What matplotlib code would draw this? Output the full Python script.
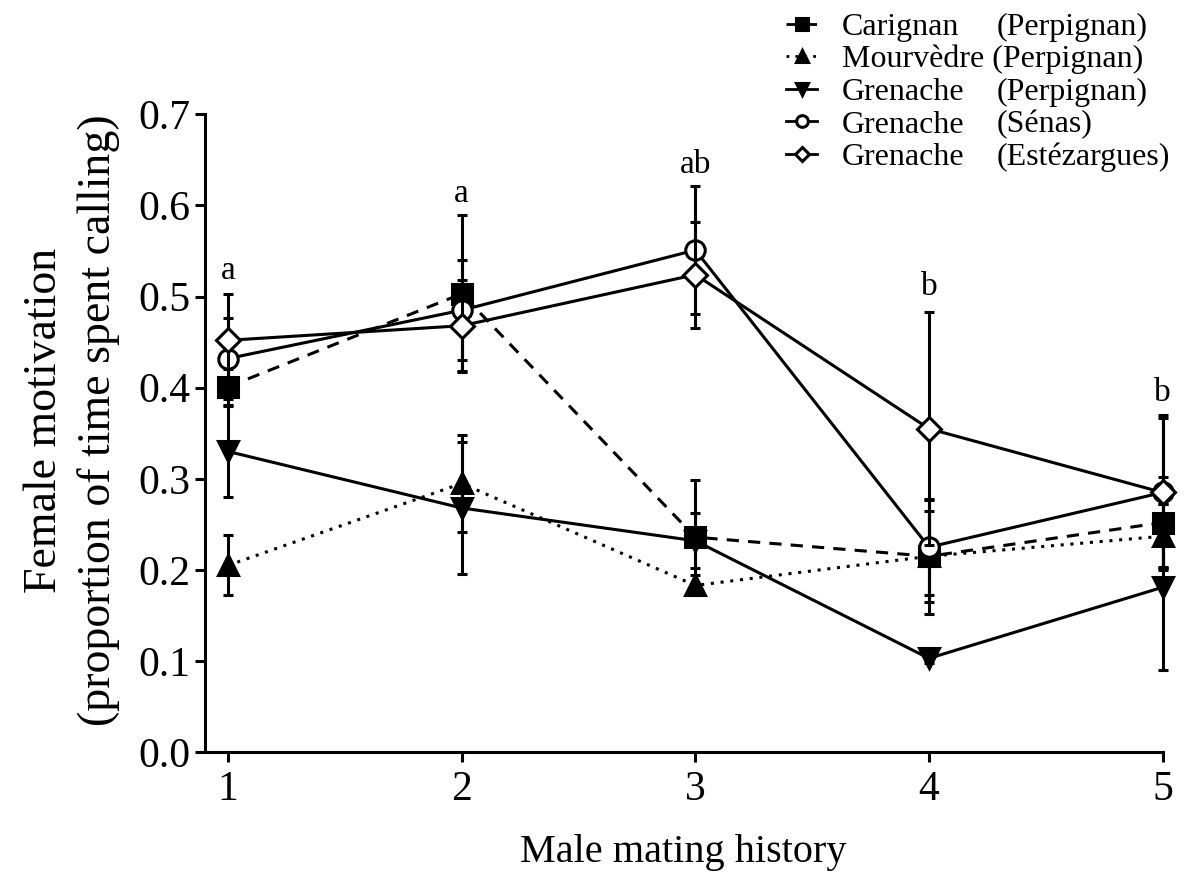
import matplotlib
matplotlib.use('Agg')
import matplotlib.pyplot as plt

plt.rcParams['font.family'] = ['Liberation Serif', 'DejaVu Serif']

history = [1, 2, 3, 4, 5]

carignan = [0.401, 0.503, 0.236, 0.215, 0.252]
carignan_sem = [0.02, 0.086, 0.063, 0.063, 0.05]
mourvedre = [0.205, 0.295, 0.183, 0.215, 0.237]
mourvedre_sem = [0.033, 0.053, 0.011, 0.05, 0.035]
grenache_perp = [0.33, 0.268, 0.232, 0.103, 0.181]
grenache_perp_sem = [0.05, 0.072, 0.03, 0.005, 0.091]
grenache_senas = [0.432, 0.485, 0.551, 0.225, 0.285]
grenache_senas_sem = [0.044, 0.055, 0.07, 0.052, 0.085]
grenache_estez = [0.452, 0.468, 0.524, 0.355, 0.285]
grenache_estez_sem = [0.051, 0.05, 0.058, 0.128, 0.082]

letters = ['a', 'a', 'ab', 'b', 'b']
letter_y = [0.519, 0.604, 0.636, 0.502, 0.385]

series = [
    ('Carignan', '(Perpignan)', carignan, carignan_sem, 's', 'black', (0, (4, 3)), 14),
    ('Mourvèdre (Perpignan)', None, mourvedre, mourvedre_sem, '^', 'black', (0, (1, 2.2)), 14),
    ('Grenache', '(Perpignan)', grenache_perp, grenache_perp_sem, 'v', 'black', '-', 14),
    ('Grenache', '(Sénas)', grenache_senas, grenache_senas_sem, 'o', 'white', '-', 14),
    ('Grenache', '(Estézargues)', grenache_estez, grenache_estez_sem, 'D', 'white', '-', 12),
]

fig = plt.figure(figsize=(11.9, 8.86), dpi=100)
ax = fig.add_axes([0.172, 0.151, 0.805, 0.720])

handles = []
z = 3
for name, place, vals, sem, mk, fc, ls, ms in series:
    cont = ax.errorbar(history, vals, yerr=sem, fmt='none', ecolor='black',
                       elinewidth=2.2, capsize=3.5, capthick=2.2, zorder=z)
    for art in cont.lines[1] + cont.lines[2]:
        art.set_clip_on(False)
    ln, = ax.plot(history, vals, color='black', lw=2.2, linestyle=ls,
                  marker=mk, markersize=ms, markerfacecolor=fc,
                  markeredgecolor='black', markeredgewidth=2.2,
                  clip_on=False, zorder=z + 1)
    handles.append(ln)
    z += 2

for x, lab, yy in zip(history, letters, letter_y):
    ax.text(x, yy, lab, ha='center', va='baseline', fontsize=24)

ax.set_xlim(0.9, 5)
ax.set_ylim(0, 0.7)
ax.set_xticks(history)
ax.set_yticks([0, 0.1, 0.2, 0.3, 0.4, 0.5, 0.6, 0.7])
ax.set_yticklabels(['0.0', '0.1', '0.2', '0.3', '0.4', '0.5', '0.6', '0.7'])
ax.spines['top'].set_visible(False)
ax.spines['right'].set_visible(False)
ax.spines['left'].set_linewidth(2.2)
ax.spines['bottom'].set_linewidth(2.2)
ax.tick_params(direction='out', length=7, width=2.2, labelsize=30)
ax.tick_params(axis='x', pad=6.5)
ax.tick_params(axis='y', pad=3)

ax.set_xlabel('Male mating history', fontsize=29, labelpad=18)
ax.set_ylabel('Female motivation\n(proportion of time spent calling)',
              fontsize=33, linespacing=1.35)
ax.yaxis.set_label_coords(-0.088, 0.52)

labels = [s[0] for s in series]
leg = fig.legend(handles, labels, loc='upper left',
                 bbox_to_anchor=(0.642, 1.0113), frameon=False, fontsize=23,
                 handlelength=0.95, handletextpad=0.78, labelspacing=0.1,
                 borderaxespad=0.3, markerscale=0.6)
for lh in leg.get_lines():
    lh.set_linewidth(2.0)

fig.canvas.draw()
renderer = fig.canvas.get_renderer()
inv = fig.transFigure.inverted()
for txt, s in zip(leg.get_texts(), series):
    if s[1] is None:
        continue
    bb = txt.get_window_extent(renderer)
    (_, y0) = inv.transform((bb.x0, bb.y0))
    fig.text(997 / 1190, y0, s[1], fontsize=23, ha='left', va='bottom')

fig.savefig('out.png', dpi=100)
